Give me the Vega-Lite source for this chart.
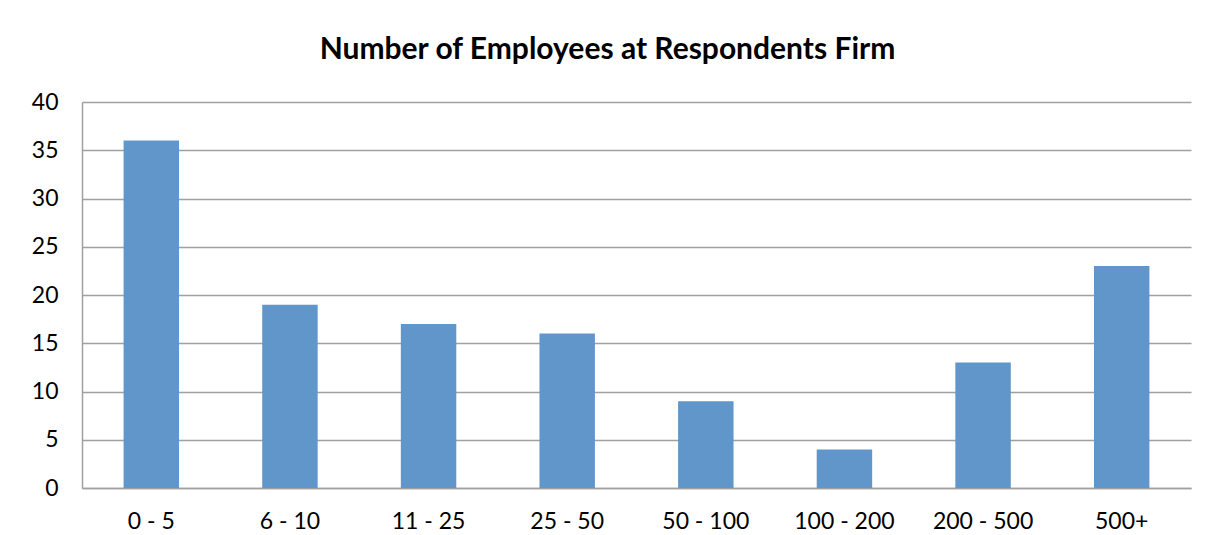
{
  "$schema": "https://vega.github.io/schema/vega-lite/v6.json",
  "autosize": "none",
  "width": 1109,
  "height": 386,
  "padding": {"left": 82, "top": 102, "right": 23, "bottom": 47},
  "background": "white",
  "title": {
    "text": "Number of Employees at Respondents Firm",
    "font": "Lato",
    "fontSize": 30,
    "fontWeight": "bold",
    "color": "#000000",
    "anchor": "middle",
    "frame": "group",
    "dx": -29,
    "offset": 26
  },
  "data": {
    "values": [
      {"size": "0 - 5", "count": 36},
      {"size": "6 - 10", "count": 19},
      {"size": "11 - 25", "count": 17},
      {"size": "25 - 50", "count": 16},
      {"size": "50 - 100", "count": 9},
      {"size": "100 - 200", "count": 4},
      {"size": "200 - 500", "count": 13},
      {"size": "500+", "count": 23}
    ]
  },
  "mark": {"type": "bar", "color": "#6096c9"},
  "encoding": {
    "x": {
      "field": "size",
      "type": "nominal",
      "sort": null,
      "scale": {"paddingInner": 0.6, "paddingOuter": 0.3},
      "axis": {
        "title": null,
        "labelAngle": 0,
        "labelFont": "Lato",
        "labelFontSize": 23,
        "labelColor": "#000000",
        "labelPadding": 22,
        "ticks": false,
        "domainColor": "#a0a0a0",
        "domainWidth": 1.5
      }
    },
    "y": {
      "field": "count",
      "type": "quantitative",
      "scale": {"domain": [0, 40]},
      "axis": {
        "title": null,
        "values": [0, 5, 10, 15, 20, 25, 30, 35, 40],
        "labelFont": "Lato",
        "labelFontSize": 23,
        "labelColor": "#000000",
        "labelPadding": 24,
        "ticks": false,
        "domainColor": "#a0a0a0",
        "domainWidth": 1.5,
        "grid": true,
        "gridColor": "#a0a0a0",
        "gridWidth": 1.5
      }
    }
  },
  "config": {
    "view": {"stroke": null}
  }
}
